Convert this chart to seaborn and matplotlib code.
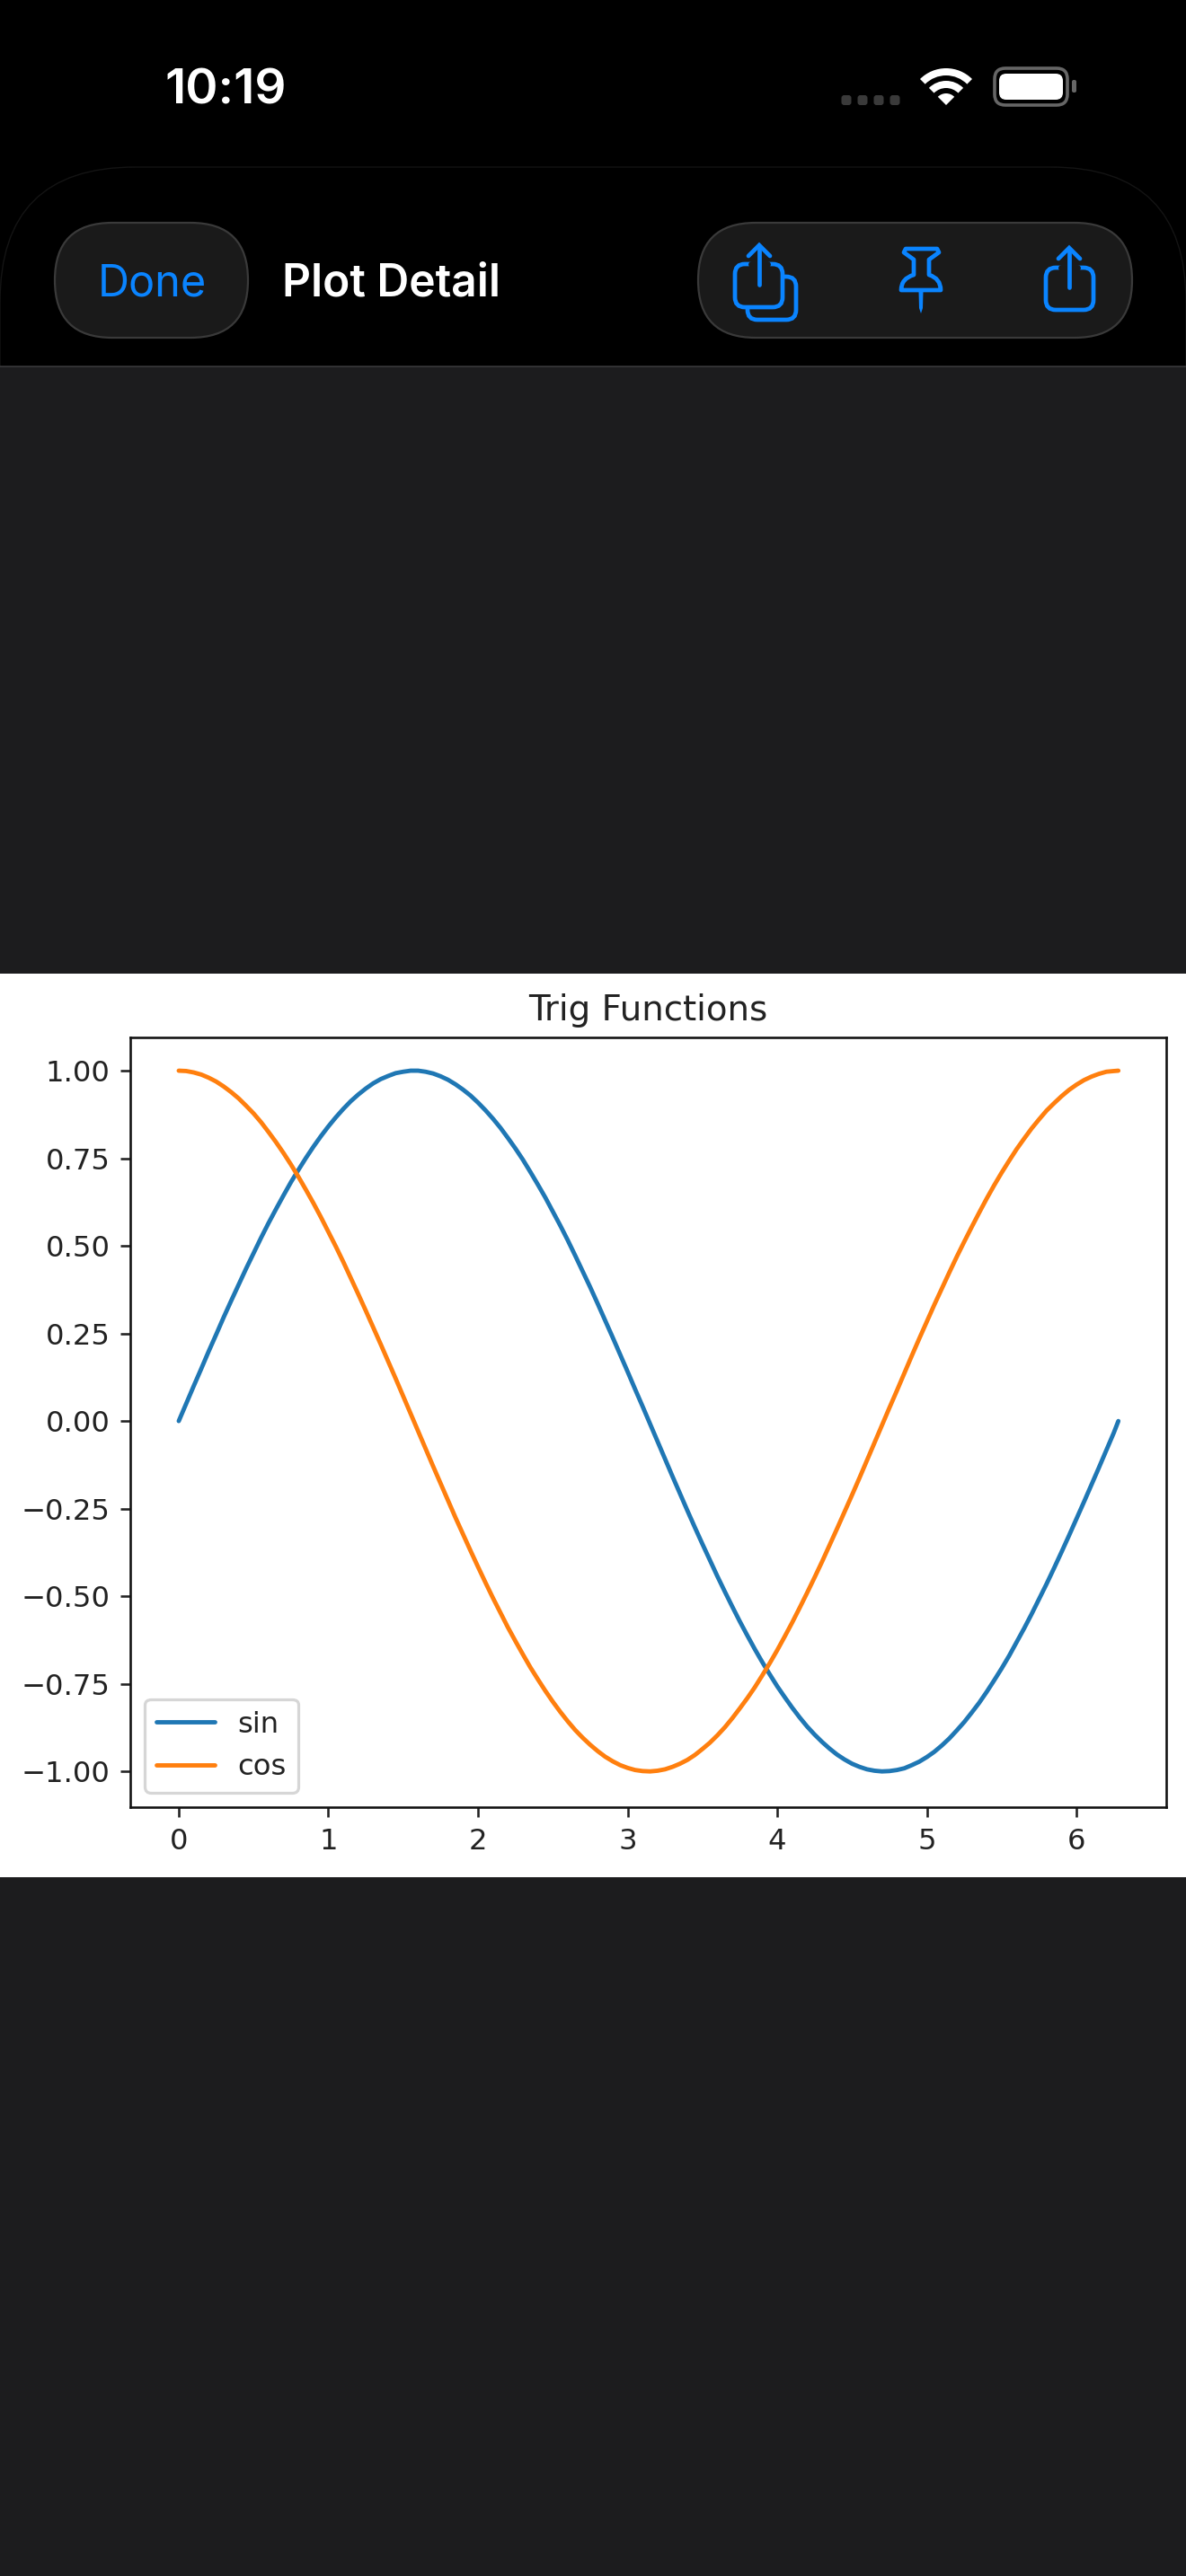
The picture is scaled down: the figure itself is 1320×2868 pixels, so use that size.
import matplotlib
matplotlib.use("Agg")
import matplotlib.pyplot as plt
from matplotlib.patches import FancyBboxPatch, PathPatch, Rectangle, Wedge
from matplotlib.path import Path
import pandas as pd
import seaborn as sns

# values
x_values = [
    0.0, 0.05, 0.1, 0.15, 0.2, 0.25, 0.3, 0.35, 0.4, 0.45,
    0.5, 0.55, 0.6, 0.65, 0.7, 0.75, 0.8, 0.85, 0.9, 0.95,
    1.0, 1.05, 1.1, 1.15, 1.2, 1.25, 1.3, 1.35, 1.4, 1.45,
    1.5, 1.55, 1.6, 1.65, 1.7, 1.75, 1.8, 1.85, 1.9, 1.95,
    2.0, 2.05, 2.1, 2.15, 2.2, 2.25, 2.3, 2.35, 2.4, 2.45,
    2.5, 2.55, 2.6, 2.65, 2.7, 2.75, 2.8, 2.85, 2.9, 2.95,
    3.0, 3.05, 3.1, 3.15, 3.2, 3.25, 3.3, 3.35, 3.4, 3.45,
    3.5, 3.55, 3.6, 3.65, 3.7, 3.75, 3.8, 3.85, 3.9, 3.95,
    4.0, 4.05, 4.1, 4.15, 4.2, 4.25, 4.3, 4.35, 4.4, 4.45,
    4.5, 4.55, 4.6, 4.65, 4.7, 4.75, 4.8, 4.85, 4.9, 4.95,
    5.0, 5.05, 5.1, 5.15, 5.2, 5.25, 5.3, 5.35, 5.4, 5.45,
    5.5, 5.55, 5.6, 5.65, 5.7, 5.75, 5.8, 5.85, 5.9, 5.95,
    6.0, 6.05, 6.1, 6.15, 6.2, 6.25, 6.28,
]
sin_values = [
    0.000, 0.050, 0.100, 0.149, 0.199, 0.247, 0.296, 0.343, 0.389, 0.435,
    0.479, 0.523, 0.565, 0.605, 0.644, 0.682, 0.717, 0.751, 0.783, 0.813,
    0.841, 0.867, 0.891, 0.913, 0.932, 0.949, 0.964, 0.976, 0.985, 0.993,
    0.997, 1.000, 1.000, 0.997, 0.992, 0.984, 0.974, 0.961, 0.946, 0.929,
    0.909, 0.887, 0.863, 0.837, 0.808, 0.778, 0.746, 0.711, 0.675, 0.638,
    0.598, 0.558, 0.516, 0.472, 0.427, 0.382, 0.335, 0.287, 0.239, 0.190,
    0.141, 0.091, 0.042, -0.008, -0.058, -0.108, -0.158, -0.207, -0.256, -0.304,
    -0.351, -0.397, -0.443, -0.487, -0.530, -0.572, -0.612, -0.651, -0.688, -0.723,
    -0.757, -0.788, -0.818, -0.846, -0.872, -0.895, -0.916, -0.935, -0.952, -0.966,
    -0.978, -0.987, -0.994, -0.998, -1.000, -0.999, -0.996, -0.991, -0.982, -0.972,
    -0.959, -0.944, -0.926, -0.906, -0.883, -0.859, -0.832, -0.804, -0.773, -0.740,
    -0.706, -0.670, -0.631, -0.592, -0.551, -0.508, -0.465, -0.420, -0.374, -0.327,
    -0.279, -0.231, -0.182, -0.133, -0.083, -0.033, 0.000,
]
cos_values = [
    1.000, 0.999, 0.995, 0.989, 0.980, 0.969, 0.955, 0.939, 0.921, 0.900,
    0.878, 0.853, 0.825, 0.796, 0.765, 0.732, 0.697, 0.660, 0.622, 0.582,
    0.540, 0.498, 0.454, 0.408, 0.362, 0.315, 0.267, 0.219, 0.170, 0.121,
    0.071, 0.021, -0.029, -0.079, -0.129, -0.178, -0.227, -0.276, -0.323, -0.370,
    -0.416, -0.461, -0.505, -0.547, -0.589, -0.628, -0.666, -0.703, -0.737, -0.770,
    -0.801, -0.830, -0.857, -0.882, -0.904, -0.924, -0.942, -0.958, -0.971, -0.982,
    -0.990, -0.996, -0.999, -1.000, -0.998, -0.994, -0.987, -0.978, -0.967, -0.953,
    -0.936, -0.918, -0.897, -0.874, -0.848, -0.820, -0.791, -0.760, -0.726, -0.691,
    -0.654, -0.615, -0.575, -0.533, -0.490, -0.446, -0.401, -0.354, -0.307, -0.259,
    -0.211, -0.162, -0.112, -0.062, -0.012, 0.038, 0.087, 0.137, 0.187, 0.236,
    0.284, 0.332, 0.378, 0.424, 0.469, 0.512, 0.554, 0.595, 0.635, 0.673,
    0.709, 0.743, 0.776, 0.806, 0.835, 0.861, 0.886, 0.907, 0.927, 0.945,
    0.960, 0.973, 0.983, 0.991, 0.997, 0.999, 1.000,
]
x_ticks = [0, 1, 2, 3, 4, 5, 6]
y_ticks = [-1.0, -0.75, -0.5, -0.25, 0.0, 0.25, 0.5, 0.75, 1.0]

W, H = 1320, 2868
BLUE = "#0a84ff"
PILL = "#1a1a1a"
PILL_EDGE = "#3a3a3a"
SCREEN = "#1c1c1e"
SCALE = 2.325  # the plot image was shown larger than its native size

sns.set_style("ticks", rc={
    "axes.edgecolor": "#111111",
    "text.color": "#222222",
    "xtick.color": "#222222",
    "ytick.color": "#222222",
})
plt.rcParams["font.family"] = ["DejaVu Sans"]
plt.rcParams["axes.linewidth"] = 0.8 * SCALE

fig = plt.figure(figsize=(W / 100, H / 100), dpi=100, facecolor=SCREEN)

# screen chrome, drawn in pixel coordinates
bg = fig.add_axes([0, 0, 1, 1])
bg.set_xlim(0, W)
bg.set_ylim(H, 0)
bg.axis("off")


def rounded(x0, y0, x1, y1, r, **kw):
    patch = FancyBboxPatch((x0 + r, y0 + r), x1 - x0 - 2 * r, y1 - y0 - 2 * r,
                           boxstyle=f"round,pad={r},rounding_size={r}", **kw)
    bg.add_patch(patch)
    return patch


def share_arrow(cx, top, bottom):
    bg.plot([cx, cx], [top + 2, bottom], color=BLUE, lw=3.4, solid_capstyle="round")
    bg.plot([cx - 12, cx, cx + 12], [top + 12, top, top + 12], color=BLUE, lw=3.4,
            solid_capstyle="round", solid_joinstyle="miter")


def chrome_text(x, y, s, size, color, weight="semibold"):
    bg.text(x, y, s, fontsize=size, color=color, fontweight=weight, family="Inter",
            ha="left", va="baseline")


header = Rectangle((0, 0), W, 408, fc="black", ec="none")
bg.add_patch(header)
bg.plot([0, W], [408, 408], color="#38383a", lw=1.2)
sheet = rounded(0, 186, W, 700, 150, fc="none", ec="#141414", lw=1)
sheet.set_clip_path(header)

# status bar
chrome_text(183, 116, "10:19", 39.5, "white")
for cx in [942, 960, 978, 996]:
    rounded(cx - 5.5, 106, cx + 5.5, 117, 3, fc="#3a3a3a", ec="none")
for r_in, r_out in [(0, 13), (19, 27), (33, 41)]:
    bg.add_patch(Wedge((1053, 117), r_out, 225, 315, width=r_out - r_in, fc="white", ec="none"))
rounded(1107, 76, 1188, 117, 12, fc="none", ec="#666666", lw=2.6)
rounded(1112, 82, 1183, 111, 8, fc="white", ec="none")
rounded(1193, 89, 1198, 103, 2, fc="#666666", ec="none")

# toolbar
rounded(61, 248, 276, 376, 64, fc=PILL, ec=PILL_EDGE, lw=1.6)
rounded(777, 248, 1260, 376, 64, fc=PILL, ec=PILL_EDGE, lw=1.6)
chrome_text(109, 329, "Done", 35, BLUE, "normal")
chrome_text(314, 329, "Plot Detail", 35.8, "white")

# duplicate icon
rounded(832, 308, 886, 356, 11, fc="none", ec=BLUE, lw=3.4)
rounded(818, 294, 871, 342, 11, fc=PILL, ec=BLUE, lw=3.4)
bg.plot([836, 854], [294, 294], color=PILL, lw=5)
share_arrow(845, 273, 317)

# pin icon
pin = Path(
    [(1008, 277), (1043, 277), (1045, 281), (1034, 289), (1034, 306),
     (1047, 310), (1047, 323), (1003, 323), (1003, 310), (1017, 306),
     (1017, 289), (1006, 281), (1008, 277)],
    [Path.MOVETO, Path.LINETO, Path.LINETO, Path.LINETO, Path.LINETO,
     Path.CURVE3, Path.CURVE3, Path.LINETO, Path.CURVE3, Path.CURVE3,
     Path.LINETO, Path.LINETO, Path.CLOSEPOLY],
)
bg.add_patch(PathPatch(pin, fc="none", ec=BLUE, lw=3.4, joinstyle="round"))
bg.fill([1022.5, 1027.5, 1027, 1025, 1023], [324, 324, 343, 349, 343], color=BLUE, lw=0)

# share icon
rounded(1164, 298, 1217, 345, 11, fc="none", ec=BLUE, lw=3.4)
bg.plot([1181, 1199], [298, 298], color=PILL, lw=5)
share_arrow(1190, 276, 320)

# plot image band
bg.add_patch(Rectangle((0, 1084), W, 1006, fc="white", ec="none"))

ax = fig.add_axes([145 / W, 1 - 2012 / H, 1153 / W, 857 / H])
ax.set_facecolor("white")

df = pd.DataFrame({"x": x_values, "sin": sin_values, "cos": cos_values})
long_df = df.melt(id_vars="x", var_name="series", value_name="y")
sns.lineplot(data=long_df, x="x", y="y", hue="series", hue_order=["sin", "cos"],
             palette=["#1f77b4", "#ff7f0e"], linewidth=1.5 * SCALE, errorbar=None,
             sort=False, ax=ax)

ax.set_xlim(-0.324, 6.60)
ax.set_ylim(-1.102, 1.095)
ax.set_xticks(x_ticks)
ax.set_yticks(y_ticks)
ax.set_yticklabels([f"{v:.2f}".replace("-", "\u2212") for v in y_ticks])
ax.tick_params(labelsize=10 * SCALE, length=3.5 * SCALE, width=0.8 * SCALE, pad=3.5 * SCALE)
ax.set_xlabel("")
ax.set_ylabel("")
ax.set_title("Trig Functions", fontsize=12 * SCALE, pad=6 * SCALE, color="#222222")
for side in ["top", "right"]:
    ax.spines[side].set_visible(True)
legend = ax.legend(loc="lower left", title=None, fontsize=10 * SCALE, frameon=True, framealpha=0.8,
                   edgecolor="0.8", fancybox=True, facecolor="white", borderpad=0.4, labelspacing=0.5,
                   handlelength=2.0, handletextpad=0.8, borderaxespad=0.5)
legend.get_frame().set_linewidth(1.0 * SCALE)

fig.savefig("out.png", dpi=100, facecolor=SCREEN)
plt.close(fig)
